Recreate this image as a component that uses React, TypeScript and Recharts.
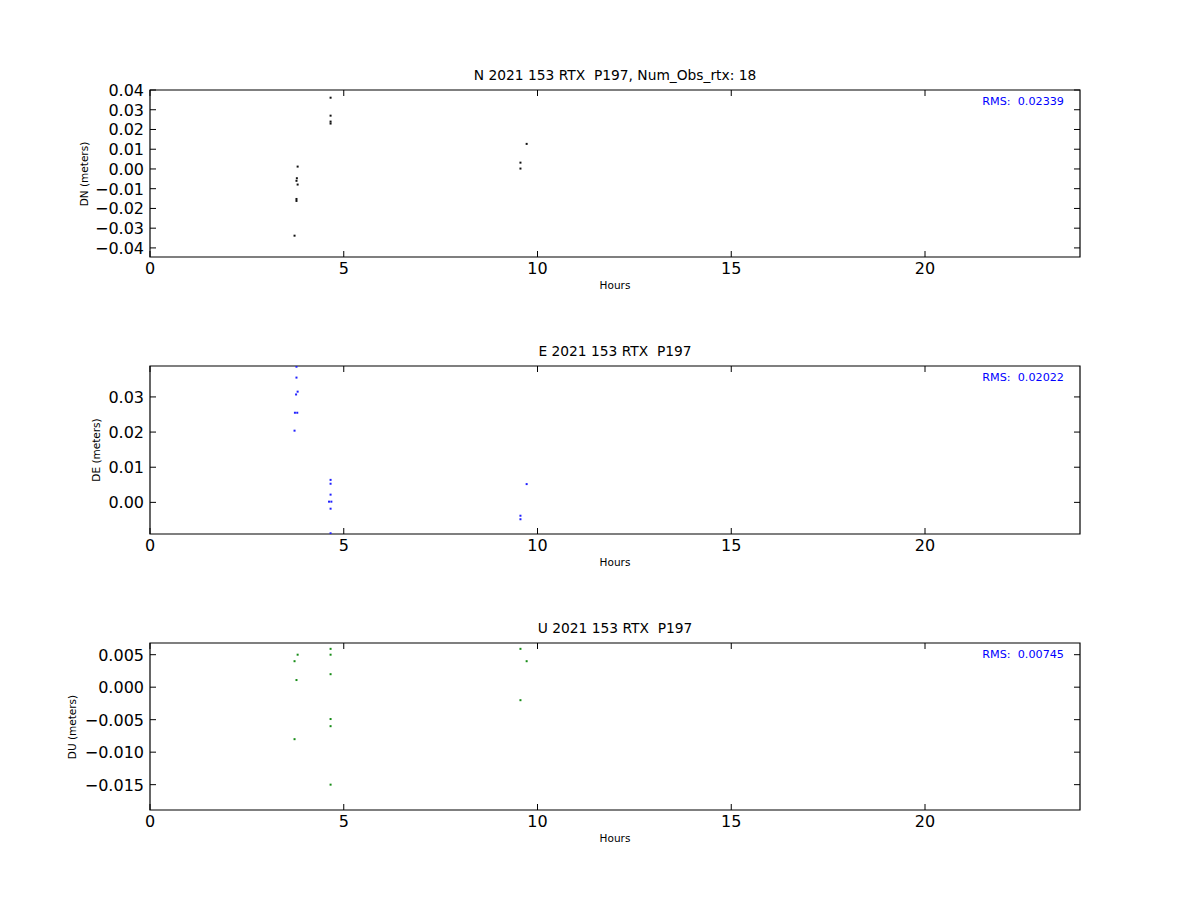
import { ScatterChart, Scatter, XAxis, YAxis, ReferenceArea } from "recharts";

const hourTicks = [0, 5, 10, 15, 20];

// North
const nHours = [3.73, 3.78, 3.78, 3.79, 3.78, 3.81, 3.81, 4.66, 4.66, 4.66, 4.66, 9.56, 9.56, 9.72];
const nValues = [-0.0338, -0.0152, -0.0162, -0.0047, -0.006, -0.0079, 0.0012, 0.0361, 0.027, 0.024, 0.023, 0.0032, 0.0002, 0.0127];
const nTicks = [-0.04, -0.03, -0.02, -0.01, 0, 0.01, 0.02, 0.03, 0.04];

// East
const eHours = [3.78, 3.78, 3.81, 3.77, 3.74, 3.8, 3.73, 4.66, 4.66, 4.66, 4.62, 4.68, 4.66, 4.66, 9.72, 9.56, 9.56];
const eValues = [0.0386, 0.0355, 0.0315, 0.0307, 0.0255, 0.0255, 0.0204, 0.0064, 0.0053, 0.0022, 0.0002, 0.0002, -0.0018, -0.0088, 0.0052, -0.0038, -0.0048];
const eTicks = [0, 0.01, 0.02, 0.03];

// Up
const uHours = [4.66, 4.66, 3.81, 3.73, 4.66, 3.78, 4.66, 4.66, 3.73, 4.66, 9.56, 9.72, 9.56];
const uValues = [0.0059, 0.005, 0.005, 0.004, 0.002, 0.0011, -0.0049, -0.006, -0.008, -0.015, 0.0059, 0.004, -0.002];
const uTicks = [-0.015, -0.01, -0.005, 0, 0.005];

const FONT = "'DejaVu Sans', 'Bitstream Vera Sans', sans-serif";
const PLOT_W = 930;
const PAD_TOP = 20;

function fmt(v: number, digits: number) {
  const s = Math.abs(v).toFixed(digits);
  return v < -1e-12 ? "\u2212" + s : s;
}

// bottom tick label plus inward tick marks on bottom and top edges
const makeBottomTick = (plotH: number) => (props: any) => {
  const { x, y, payload } = props;
  return (
    <g>
      <line x1={x} x2={x} y1={y} y2={y - 6} stroke="#000" />
      <line x1={x} x2={x} y1={y - plotH} y2={y - plotH + 6} stroke="#000" />
      <text x={x} y={y + 17} textAnchor="middle" fontSize={16} fontFamily={FONT} fill="#000">
        {payload.value}
      </text>
    </g>
  );
};

// left tick label plus inward tick marks on left and right edges
const makeLeftTick = (digits: number) => (props: any) => {
  const { x, y, payload } = props;
  return (
    <g>
      <line x1={x} x2={x + 6} y1={y} y2={y} stroke="#000" />
      <line x1={x + PLOT_W} x2={x + PLOT_W - 6} y1={y} y2={y} stroke="#000" />
      <text x={x - 6} y={y + 6} textAnchor="end" fontSize={16} fontFamily={FONT} fill="#000">
        {fmt(payload.value, digits)}
      </text>
    </g>
  );
};

const makeDot = (color: string) => (props: any) =>
  <rect x={props.cx - 1} y={props.cy - 1} width={2} height={2} fill={color} />;

type PanelProps = {
  top: number;
  plotH: number;
  hours: number[];
  values: number[];
  color: string;
  domain: [number, number];
  yTicks: number[];
  digits: number;
  title: string;
  ylabel: string;
  ylabelX: number;
  rms: string;
};

function Panel(p: PanelProps) {
  const data = p.hours.map((h, i) => ({ h, v: p.values[i] }));
  return (
    <>
      <div
        style={{
          position: "absolute", left: 150, width: PLOT_W, top: p.top - 23, lineHeight: "16px",
          textAlign: "center", fontSize: 13.8, fontFamily: FONT, color: "#000", whiteSpace: "pre",
        }}
      >
        {p.title}
      </div>
      <div style={{ position: "absolute", left: 0, top: p.top - PAD_TOP }}>
        <ScatterChart width={1200} height={p.plotH + PAD_TOP + 30} margin={{ top: PAD_TOP, right: 120, bottom: 0, left: 0 }}>
          <XAxis
            dataKey="h" type="number" domain={[0, 24]} ticks={hourTicks} allowDataOverflow interval={0}
            height={30} tickSize={0} tickMargin={0} tickLine={false} tick={makeBottomTick(p.plotH)}
            axisLine={false}
          />
          <YAxis
            dataKey="v" type="number" domain={p.domain} ticks={p.yTicks} allowDataOverflow interval={0}
            width={150} tickSize={0} tickMargin={0} tickLine={false} tick={makeLeftTick(p.digits)}
            axisLine={false}
          />
          <ReferenceArea
            x1={0} x2={24} y1={p.domain[0]} y2={p.domain[1]}
            fill="none" fillOpacity={0} stroke="#000" strokeWidth={1.2} strokeOpacity={1}
          />
          <Scatter data={data} shape={makeDot(p.color)} isAnimationActive={false} />
        </ScatterChart>
      </div>
      <div
        style={{
          position: "absolute", left: p.ylabelX - 60, width: 120, top: p.top + p.plotH / 2 - 7,
          lineHeight: "14px", textAlign: "center", fontSize: 10.5, fontFamily: FONT,
          transform: "rotate(-90deg)", color: "#000",
        }}
      >
        {p.ylabel}
      </div>
      <div
        style={{
          position: "absolute", left: 150, width: PLOT_W, top: p.top + p.plotH + 21, lineHeight: "14px",
          textAlign: "center", fontSize: 10.5, fontFamily: FONT, color: "#000",
        }}
      >
        Hours
      </div>
      <div
        style={{
          position: "absolute", right: 1200 - 1064, top: p.top + 5, lineHeight: "14px",
          fontSize: 11.2, fontFamily: FONT, color: "#0000ff", whiteSpace: "pre",
        }}
      >
        {p.rms}
      </div>
    </>
  );
}

export default function App() {
  return (
    <div style={{ position: "absolute", left: 0, top: 0, width: 1200, height: 900, background: "#fff", overflow: "hidden" }}>
      <Panel
        top={90} plotH={167} hours={nHours} values={nValues} color="#111" domain={[-0.0446, 0.04]} yTicks={nTicks}
        digits={2} title="N 2021 153 RTX  P197, Num_Obs_rtx: 18" ylabel="DN (meters)" ylabelX={84}
        rms="RMS:  0.02339"
      />
      <Panel
        top={366} plotH={168} hours={eHours} values={eValues} color="#2020ff" domain={[-0.009, 0.0388]} yTicks={eTicks}
        digits={2} title="E 2021 153 RTX  P197" ylabel="DE (meters)" ylabelX={96} rms="RMS:  0.02022"
      />
      <Panel
        top={643} plotH={167} hours={uHours} values={uValues} color="#178c17" domain={[-0.0189, 0.0068]} yTicks={uTicks}
        digits={3} title="U 2021 153 RTX  P197" ylabel="DU (meters)" ylabelX={72} rms="RMS:  0.00745"
      />
    </div>
  );
}
